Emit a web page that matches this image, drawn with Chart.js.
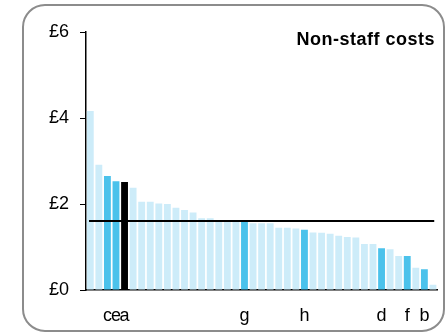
<!DOCTYPE html>
<html>
<head>
<meta charset="utf-8">
<script src="https://cdn.jsdelivr.net/npm/chart.js@4/dist/chart.umd.min.js"></script>
<style>
  html, body { margin: 0; padding: 0; background: #fff; }
  #wrap { position: relative; width: 448px; height: 334px; }
  canvas { display: block; }
</style>
</head>
<body>
<div id="wrap"><canvas id="c" width="448" height="334"></canvas></div>
<script>
// ---- data ----
const categories = ['', '', 'c', 'e', 'a', '', '', '', '', '', '', '', '', '', '', '', '', '', 'g', '', '', '', '', '', '', 'h', '', '', '', '', '', '', '', '', 'd', '', '', 'f', '', 'b', ''];
const values = [4.16, 2.91, 2.65, 2.53, 2.51, 2.38, 2.05, 2.05, 2.01, 2.00, 1.91, 1.86, 1.80, 1.67, 1.67, 1.63, 1.61, 1.60, 1.59, 1.55, 1.55, 1.55, 1.45, 1.45, 1.43, 1.40, 1.34, 1.33, 1.31, 1.26, 1.23, 1.22, 1.07, 1.07, 0.97, 0.95, 0.79, 0.79, 0.52, 0.48, 0.12];
const focusLabel = 'a';
const averageValue = 1.60;
const yTicks = [0, 2, 4, 6];
const chartTitle = 'Non-staff costs';

const LIGHT = '#cdecf9';
const BLUE = '#4bc2eb';
const BLACK = '#000000';
const barColors = categories.map(l => l === focusLabel ? BLACK : (l !== '' ? BLUE : LIGHT));

const FONT = "'Liberation Sans', Arial, sans-serif";

const framePlugin = {
  id: 'frame',
  beforeDraw(chart) {
    const ctx = chart.ctx;
    ctx.save();
    ctx.strokeStyle = '#8c8c8c';
    ctx.lineWidth = 2;
    const x = 23, y = 5, w = 421, h = 326, r = 22;
    ctx.beginPath();
    ctx.moveTo(x + r, y);
    ctx.lineTo(x + w - r, y);
    ctx.arcTo(x + w, y, x + w, y + r, r);
    ctx.lineTo(x + w, y + h - r);
    ctx.arcTo(x + w, y + h, x + w - r, y + h, r);
    ctx.lineTo(x + r, y + h);
    ctx.arcTo(x, y + h, x, y + h - r, r);
    ctx.lineTo(x, y + r);
    ctx.arcTo(x, y, x + r, y, r);
    ctx.closePath();
    ctx.stroke();
    ctx.restore();
  }
};

const avgPlugin = {
  id: 'avgLine',
  afterDatasetsDraw(chart) {
    const ctx = chart.ctx;
    const ys = chart.scales.y;
    const area = chart.chartArea;
    const py = Math.round(ys.getPixelForValue(averageValue));
    ctx.save();
    ctx.strokeStyle = '#000';
    ctx.lineWidth = 2;
    ctx.beginPath();
    ctx.moveTo(area.left + 3, py);
    ctx.lineTo(area.right - 3, py);
    ctx.stroke();
    // title
    ctx.fillStyle = '#000';
    ctx.font = "bold 18px " + FONT;
    if ('letterSpacing' in ctx) ctx.letterSpacing = '0.5px';
    ctx.textAlign = 'right';
    ctx.textBaseline = 'alphabetic';
    ctx.fillText(chartTitle, 435, 45);
    ctx.restore();
  }
};

new Chart(document.getElementById('c'), {
  type: 'bar',
  data: {
    labels: categories,
    datasets: [{
      data: values,
      backgroundColor: barColors,
      borderWidth: 0,
      barPercentage: 0.8,
      categoryPercentage: 1.0
    }]
  },
  options: {
    responsive: false,
    animation: false,
    layout: { padding: { top: 32, right: 4, bottom: 0, left: 0 } },
    plugins: { legend: { display: false }, tooltip: { enabled: false }, title: { display: false } },
    scales: {
      x: {
        grid: { display: false, drawTicks: false },
        border: { display: true, color: '#000', width: 1.5 },
        ticks: {
          autoSkip: false, maxRotation: 0, minRotation: 0, padding: 15,
          color: '#000', font: { family: FONT, size: 18 }
        },
        afterFit(scale) { scale.height = 44; }
      },
      y: {
        min: 0, max: 6,
        afterBuildTicks(scale) { scale.ticks = yTicks.map(v => ({ value: v })); },
        grid: { display: true, drawOnChartArea: false, drawTicks: true, tickLength: 6, color: '#000', lineWidth: 1 },
        border: { display: true, color: '#000', width: 1.5 },
        ticks: {
          padding: 11, color: '#000', font: { family: FONT, size: 18 },
          callback: v => '£' + v
        },
        afterFit(scale) { scale.width = 86; }
      }
    }
  },
  plugins: [framePlugin, avgPlugin]
});
</script>
</body>
</html>
